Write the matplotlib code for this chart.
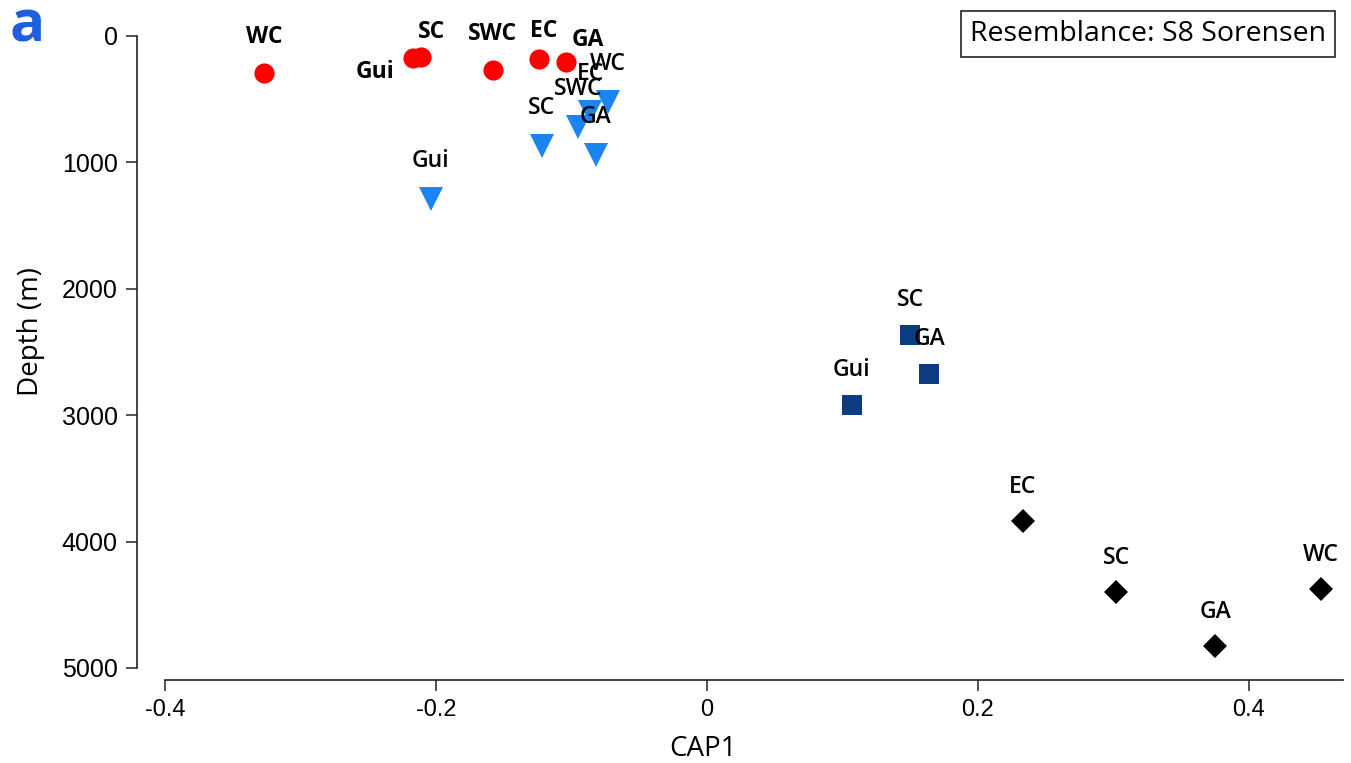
import matplotlib.pyplot as plt

# CAP1 scores vs depth, one group per depth band
red_sites = ['WC', 'Gui', 'SC', 'SWC', 'EC', 'GA']
red_cap1 = [-0.327, -0.217, -0.211, -0.158, -0.124, -0.104]
red_depth = [295, 172, 169, 269, 182, 203]

blue_sites = ['Gui', 'SC', 'SWC', 'EC', 'GA', 'WC']
blue_cap1 = [-0.204, -0.122, -0.095, -0.086, -0.082, -0.073]
blue_depth = [1292, 874, 720, 601, 939, 522]

navy_sites = ['SC', 'GA', 'Gui']
navy_cap1 = [0.150, 0.164, 0.107]
navy_depth = [2365, 2676, 2919]

black_sites = ['EC', 'SC', 'GA', 'WC']
black_cap1 = [0.233, 0.302, 0.375, 0.453]
black_depth = [3835, 4399, 4826, 4377]

x_ticks = [-0.4, -0.2, 0, 0.2, 0.4]
x_ticklabels = ['-0.4', '-0.2', '0', '0.2', '0.4']
y_ticks = [0, 1000, 2000, 3000, 4000, 5000]
y_ticklabels = ['0', '1000', '2000', '3000', '4000', '5000']

LABEL_FONT = ['Open Sans', 'DejaVu Sans']

fig = plt.figure(figsize=(13.51, 7.63), dpi=100)
ax = fig.add_axes([137 / 1351, 1 - 680 / 763, 1206 / 1351, 675 / 763])

ax.set_xlim(-0.4207, 0.4694)
ax.set_ylim(5095, -245)

groups = [
    (red_sites, red_cap1, red_depth, 'o', 14.5, '#ff0000', 'bold',
     {'Gui': (-38, -14), 'SC': (10, 25), 'EC': (5, 28), 'GA': (22, 22)}, (0, 36)),
    (blue_sites, blue_cap1, blue_depth, 'v', 17, '#1a85f0', 'semibold', {}, (0, 38)),
    (navy_sites, navy_cap1, navy_depth, 's', 14, '#0b3d80', 'semibold', {}, (0, 35)),
    (black_sites, black_cap1, black_depth, 'D', 12.7, 'black', 'semibold', {}, (0, 34)),
]

for sites, xs, ys, marker, ms, color, weight, special, default in groups:
    ax.plot(xs, ys, linestyle='none', marker=marker, markersize=ms,
            color=color, markeredgewidth=0, zorder=2)
    for s, x, y in zip(sites, xs, ys):
        dx, dy = special.get(s, default)
        ax.annotate(s, (x, y), xytext=(dx, dy), textcoords='offset pixels',
                    ha='center', va='center', fontsize=16.5, fontweight=weight,
                    family=LABEL_FONT, color='black', zorder=3)

# Axes styling: only left and bottom spines, trimmed like the original
ax.spines['top'].set_visible(False)
ax.spines['right'].set_visible(False)
ax.spines['left'].set_bounds(0, 5000)
ax.spines['bottom'].set_bounds(-0.4, 0.4694)
for side in ('left', 'bottom'):
    ax.spines[side].set_linewidth(1.2)
    ax.spines[side].set_color('#222222')

ax.set_xticks(x_ticks)
ax.set_xticklabels(x_ticklabels, family=['Liberation Sans', 'DejaVu Sans'], fontsize=17)
ax.set_yticks(y_ticks)
ax.set_yticklabels(y_ticklabels, family=['Liberation Sans', 'DejaVu Sans'], fontsize=18)
ax.tick_params(axis='both', direction='out', length=8, width=1.1, color='#222222')
ax.tick_params(axis='y', pad=6)
ax.tick_params(axis='x', pad=6)

ax.set_xlabel('CAP1', fontsize=20, family=LABEL_FONT)
ax.set_ylabel('Depth (m)', fontsize=20, family=LABEL_FONT)
ax.xaxis.set_label_coords(0.4692, -0.081)
ax.yaxis.set_label_coords(-0.076, 0.5156)

# Panel letter and resemblance box
fig.text(27 / 1351, 1 - 27 / 763, 'a', fontsize=42, fontweight='bold',
         color='#1f5fdc', ha='center', va='center', family=LABEL_FONT)
fig.text(1148 / 1351, 1 - 34 / 763, 'Resemblance: S8 Sorensen', fontsize=20.5,
         ha='center', va='center', family=LABEL_FONT,
         bbox=dict(boxstyle='square,pad=0.3', facecolor='white',
                   edgecolor='#222222', linewidth=1.2))

plt.savefig('out.png', dpi=100)
